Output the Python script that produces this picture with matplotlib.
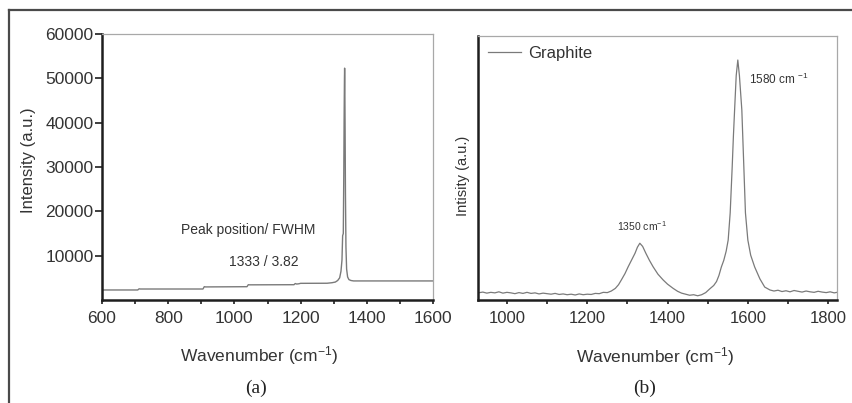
"""Raman spectra: diamond film (a) and graphite reference (b)."""
import matplotlib
matplotlib.use("Agg")
import matplotlib.pyplot as plt
from matplotlib.lines import Line2D
from matplotlib.ticker import MultipleLocator, NullLocator

# (a) diamond film, intensity in a.u.
diamond_wavenumber = [600, 708, 712, 716, 905, 909, 913, 1038, 1042, 1046,
                      1180, 1184, 1188, 1194, 1200, 1280, 1295, 1305, 1312,
                      1318, 1322, 1325, 1327, 1329, 1330.5, 1331.5, 1332.5,
                      1333, 1333.5, 1334.5, 1335.5, 1337, 1339, 1342, 1346,
                      1352, 1360, 1600]
diamond_intensity = [2260, 2260, 2520, 2480, 2480, 3000, 2950, 3000, 3450,
                     3420, 3450, 3720, 3600, 3650, 3760, 3780, 3900, 4050,
                     4400, 5000, 6500, 9000, 14500, 15000, 28500, 41000,
                     50000, 52300, 50000, 38000, 24000, 12000, 7000, 5200,
                     4600, 4400, 4300, 4300]
peak_position = 1333
peak_fwhm = 3.82

# (b) graphite, arbitrary units
graphite_wavenumber = [928, 940, 950, 960, 970, 980, 990, 1000, 1010, 1020,
                       1030, 1040, 1050, 1060, 1070, 1080, 1090, 1100, 1110, 1120,
                       1130, 1140, 1150, 1160, 1170, 1180, 1190, 1200, 1210, 1220,
                       1230, 1240, 1250, 1260, 1270, 1278, 1285, 1294, 1302, 1310,
                       1319, 1325, 1331, 1338, 1346, 1355, 1364, 1376, 1389, 1400,
                       1414, 1425, 1435, 1445, 1455, 1465, 1475, 1485, 1495, 1505,
                       1515, 1522, 1528, 1534, 1540, 1546, 1551, 1556, 1561, 1564,
                       1567, 1571, 1575, 1579, 1585, 1590, 1594, 1600, 1607, 1617,
                       1630, 1642, 1655, 1665, 1675, 1685, 1695, 1705, 1715, 1725,
                       1735, 1745, 1755, 1765, 1775, 1785, 1795, 1805, 1815, 1822]
graphite_intensity = [27, 30, 26, 29, 27, 31, 26, 29, 27, 24,
                      28, 25, 29, 25, 27, 23, 26, 24, 22, 25,
                      21, 23, 20, 22, 19, 23, 20, 22, 21, 25,
                      24, 29, 28, 34, 44, 58, 76, 100, 126, 150,
                      177, 200, 215, 203, 177, 150, 126, 98, 76, 60,
                      44, 33, 26, 22, 18, 20, 16, 20, 28, 42,
                      55, 70, 93, 125, 150, 185, 227, 330, 504, 620,
                      720, 850, 909, 850, 720, 504, 330, 227, 170, 125,
                      80, 49, 38, 34, 37, 32, 35, 31, 36, 33,
                      30, 34, 31, 29, 33, 30, 28, 31, 27, 29]
band_labels = ["1350", "1580"]

TEXT = "#333333"
CURVE = "#7a7a7a"
SPINE = "#1e1e1e"
FRAME = "#a8a8a8"

plt.rcParams["font.family"] = ["Liberation Sans", "DejaVu Sans"]
plt.rcParams["mathtext.fontset"] = "custom"
plt.rcParams["mathtext.rm"] = "Liberation Sans"
plt.rcParams["mathtext.it"] = "Liberation Sans:italic"
plt.rcParams["mathtext.bf"] = "Liberation Sans:bold"


def _style_axes(ax):
    for side in ("left", "bottom"):
        ax.spines[side].set_linewidth(1.8)
        ax.spines[side].set_color(SPINE)
    for side in ("top", "right"):
        ax.spines[side].set_linewidth(0.9)
        ax.spines[side].set_color(FRAME)
    ax.tick_params(which="both", direction="out", colors=SPINE,
                   labelcolor=TEXT, top=False, right=False, width=1.2)
    ax.tick_params(axis="x", which="both", length=3, pad=5)


fig = plt.figure(figsize=(8.53, 4.03), dpi=100)

# outer frame, left and top edges only
fig.add_artist(Line2D([9 / 853, 9 / 853], [0, 1 - 10 / 403],
                      transform=fig.transFigure, color="#4a4a4a", lw=1.6))
fig.add_artist(Line2D([9 / 853, 1], [1 - 10 / 403, 1 - 10 / 403],
                      transform=fig.transFigure, color="#4a4a4a", lw=1.6))

# (a) diamond film
ax_a = fig.add_axes([102 / 853, 1 - 300 / 403, 331 / 853, 266 / 403])
ax_a.plot(diamond_wavenumber, diamond_intensity, color=CURVE, lw=1.0)
ax_a.set_xlim(600, 1600)
ax_a.set_ylim(0, 60000)
ax_a.xaxis.set_major_locator(MultipleLocator(200))
ax_a.xaxis.set_minor_locator(MultipleLocator(100))
ax_a.set_yticks([10000, 20000, 30000, 40000, 50000, 60000])
_style_axes(ax_a)
ax_a.tick_params(axis="y", which="major", length=5, pad=1)
ax_a.tick_params(axis="both", labelsize=12.5)
ax_a.set_xlabel("Wavenumber (cm$^{-1}$)", fontsize=12.5, color=TEXT)
ax_a.xaxis.set_label_coords(0.474, -0.165)
ax_a.set_ylabel("Intensity (a.u.)", fontsize=12, color=TEXT)
ax_a.yaxis.set_label_coords(-0.2, 0.526)
ax_a.text(1041, 15800, "Peak position/ FWHM", fontsize=10, color=TEXT,
          ha="center", va="center")
ax_a.text(1088, 8580, f"{peak_position} / {peak_fwhm:.2f}", fontsize=10,
          color=TEXT, ha="center", va="center")

# (b) graphite
ax_b = fig.add_axes([478 / 853, 1 - 300 / 403, 359 / 853, 264 / 403])
ax_b.plot(graphite_wavenumber, graphite_intensity, color=CURVE, lw=0.9,
          label="Graphite")
ax_b.set_xlim(928, 1822)
ax_b.set_ylim(0, 1000)
ax_b.xaxis.set_major_locator(MultipleLocator(200))
ax_b.xaxis.set_minor_locator(MultipleLocator(100))
ax_b.yaxis.set_major_locator(NullLocator())
_style_axes(ax_b)
ax_b.tick_params(axis="x", labelsize=12)
ax_b.set_xlabel("Wavenumber (cm$^{-1}$)", fontsize=12.5, color=TEXT)
ax_b.xaxis.set_label_coords(0.493, -0.172)
ax_b.set_ylabel("Intisity (a.u.)", fontsize=10.5, color=TEXT)
ax_b.yaxis.set_label_coords(-0.022, 0.47)
ax_b.text(1274, 280, band_labels[0] + " cm$^{-1}$", fontsize=7.5,
          color=TEXT, ha="left", va="center")
ax_b.text(1604, 837, band_labels[1] + " cm $^{-1}$", fontsize=8.5,
          color=TEXT, ha="left", va="center")
leg = ax_b.legend(loc="upper left", frameon=False, fontsize=12,
                  handlelength=2.0, handletextpad=0.4, borderaxespad=0.2)
for txt in leg.get_texts():
    txt.set_color(TEXT)

# panel captions
caption_font = ["Liberation Serif", "DejaVu Serif"]
fig.text(256 / 853, 1 - 388 / 403, "(a)", family=caption_font, fontsize=14,
         color="#222222", ha="center", va="center")
fig.text(645 / 853, 1 - 388 / 403, "(b)", family=caption_font, fontsize=14,
         color="#222222", ha="center", va="center")

fig.savefig("out.png", dpi=100)
plt.close(fig)
